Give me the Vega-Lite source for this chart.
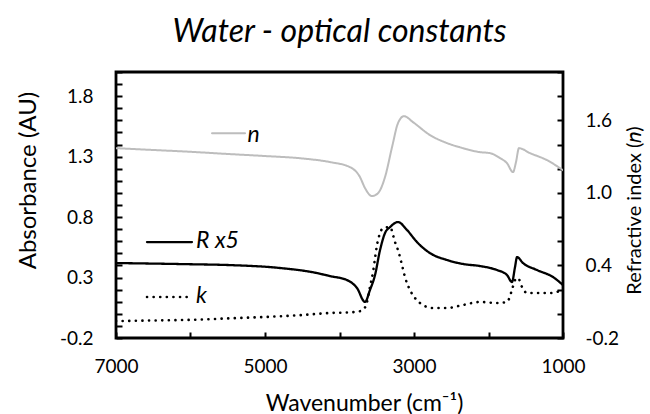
{
  "$schema": "https://vega.github.io/schema/vega-lite/v6.json",
  "autosize": "none",
  "padding": {"left": 116, "top": 72, "right": 87, "bottom": 76},
  "width": 447,
  "height": 266,
  "background": "white",
  "title": {"text": "Water - optical constants", "font": "Lato", "fontSize": 32, "fontStyle": "italic", "fontWeight": "normal", "color": "black", "anchor": "middle", "offset": 14},
  "datasets": {
    "curves": [
      {"series": "n", "wn": 7000, "v": 1.37}, {"series": "n", "wn": 6500, "v": 1.355}, {"series": "n", "wn": 6000, "v": 1.34}, {"series": "n", "wn": 5500, "v": 1.322}, {"series": "n", "wn": 5000, "v": 1.305}, {"series": "n", "wn": 4500, "v": 1.285}, {"series": "n", "wn": 4128, "v": 1.255}, {"series": "n", "wn": 3859, "v": 1.213}, {"series": "n", "wn": 3725, "v": 1.131}, {"series": "n", "wn": 3658, "v": 1.04}, {"series": "n", "wn": 3564, "v": 0.974}, {"series": "n", "wn": 3483, "v": 0.998}, {"series": "n", "wn": 3389, "v": 1.131}, {"series": "n", "wn": 3295, "v": 1.378}, {"series": "n", "wn": 3215, "v": 1.577}, {"series": "n", "wn": 3134, "v": 1.635}, {"series": "n", "wn": 3013, "v": 1.585}, {"series": "n", "wn": 2785, "v": 1.478}, {"series": "n", "wn": 2557, "v": 1.412}, {"series": "n", "wn": 2342, "v": 1.37}, {"series": "n", "wn": 2114, "v": 1.337}, {"series": "n", "wn": 1980, "v": 1.329}, {"series": "n", "wn": 1846, "v": 1.288}, {"series": "n", "wn": 1752, "v": 1.246}, {"series": "n", "wn": 1671, "v": 1.172}, {"series": "n", "wn": 1631, "v": 1.255}, {"series": "n", "wn": 1591, "v": 1.37}, {"series": "n", "wn": 1443, "v": 1.329}, {"series": "n", "wn": 1215, "v": 1.271}, {"series": "n", "wn": 1000, "v": 1.188},
      {"series": "R x5", "wn": 7000, "v": 0.42}, {"series": "R x5", "wn": 6000, "v": 0.41}, {"series": "R x5", "wn": 5470, "v": 0.403}, {"series": "R x5", "wn": 4799, "v": 0.379}, {"series": "R x5", "wn": 4302, "v": 0.337}, {"series": "R x5", "wn": 4128, "v": 0.312}, {"series": "R x5", "wn": 3899, "v": 0.279}, {"series": "R x5", "wn": 3765, "v": 0.213}, {"series": "R x5", "wn": 3658, "v": 0.098}, {"series": "R x5", "wn": 3591, "v": 0.197}, {"series": "R x5", "wn": 3523, "v": 0.321}, {"series": "R x5", "wn": 3456, "v": 0.527}, {"series": "R x5", "wn": 3389, "v": 0.668}, {"series": "R x5", "wn": 3322, "v": 0.717}, {"series": "R x5", "wn": 3215, "v": 0.759}, {"series": "R x5", "wn": 3094, "v": 0.693}, {"series": "R x5", "wn": 2960, "v": 0.593}, {"series": "R x5", "wn": 2785, "v": 0.502}, {"series": "R x5", "wn": 2557, "v": 0.445}, {"series": "R x5", "wn": 2342, "v": 0.412}, {"series": "R x5", "wn": 2114, "v": 0.395}, {"series": "R x5", "wn": 1886, "v": 0.362}, {"series": "R x5", "wn": 1752, "v": 0.321}, {"series": "R x5", "wn": 1685, "v": 0.263}, {"series": "R x5", "wn": 1644, "v": 0.387}, {"series": "R x5", "wn": 1617, "v": 0.469}, {"series": "R x5", "wn": 1537, "v": 0.42}, {"series": "R x5", "wn": 1349, "v": 0.362}, {"series": "R x5", "wn": 1134, "v": 0.304}, {"series": "R x5", "wn": 1000, "v": 0.238},
      {"series": "k", "wn": 7000, "v": -0.06}, {"series": "k", "wn": 6500, "v": -0.055}, {"series": "k", "wn": 6000, "v": -0.05}, {"series": "k", "wn": 5500, "v": -0.038}, {"series": "k", "wn": 5000, "v": -0.026}, {"series": "k", "wn": 4500, "v": -0.01}, {"series": "k", "wn": 4128, "v": 0.007}, {"series": "k", "wn": 3859, "v": 0.012}, {"series": "k", "wn": 3740, "v": 0.02}, {"series": "k", "wn": 3685, "v": 0.031}, {"series": "k", "wn": 3631, "v": 0.098}, {"series": "k", "wn": 3591, "v": 0.222}, {"series": "k", "wn": 3550, "v": 0.346}, {"series": "k", "wn": 3523, "v": 0.461}, {"series": "k", "wn": 3497, "v": 0.568}, {"series": "k", "wn": 3456, "v": 0.667}, {"series": "k", "wn": 3416, "v": 0.709}, {"series": "k", "wn": 3322, "v": 0.717}, {"series": "k", "wn": 3255, "v": 0.593}, {"series": "k", "wn": 3215, "v": 0.527}, {"series": "k", "wn": 3161, "v": 0.403}, {"series": "k", "wn": 3121, "v": 0.304}, {"series": "k", "wn": 3054, "v": 0.197}, {"series": "k", "wn": 2987, "v": 0.131}, {"series": "k", "wn": 2919, "v": 0.089}, {"series": "k", "wn": 2825, "v": 0.056}, {"series": "k", "wn": 2745, "v": 0.048}, {"series": "k", "wn": 2557, "v": 0.048}, {"series": "k", "wn": 2342, "v": 0.073}, {"series": "k", "wn": 2114, "v": 0.098}, {"series": "k", "wn": 1886, "v": 0.089}, {"series": "k", "wn": 1752, "v": 0.098}, {"series": "k", "wn": 1685, "v": 0.197}, {"series": "k", "wn": 1644, "v": 0.279}, {"series": "k", "wn": 1604, "v": 0.296}, {"series": "k", "wn": 1550, "v": 0.221}, {"series": "k", "wn": 1483, "v": 0.172}, {"series": "k", "wn": 1349, "v": 0.172}, {"series": "k", "wn": 1175, "v": 0.172}, {"series": "k", "wn": 1000, "v": 0.197}
    ],
    "legendLines": [
      {"series": "n", "wn": 5711, "v": 1.494}, {"series": "n", "wn": 5268, "v": 1.494},
      {"series": "R x5", "wn": 6584, "v": 0.593}, {"series": "R x5", "wn": 5980, "v": 0.593},
      {"series": "k", "wn": 6584, "v": 0.139}, {"series": "k", "wn": 5980, "v": 0.139}
    ],
    "legendText": [
      {"label": "n", "wn": 5235, "v": 1.42},
      {"label": "R x5", "wn": 5925, "v": 0.544},
      {"label": "k", "wn": 5925, "v": 0.089}
    ]
  },
  "layer": [
    {
      "data": {"name": "curves"},
      "mark": {"type": "line", "interpolate": "monotone", "strokeCap": "round", "clip": true},
      "encoding": {
        "x": {"field": "wn", "type": "quantitative", "scale": {"domain": [7000, 1000], "nice": false, "zero": false},
          "axis": {"values": [1000, 1500, 2000, 2500, 3000, 3500, 4000, 4500, 5000, 5500, 6000, 6500, 7000], "offset": -6, "tickSize": 6, "labelExpr": "datum.value % 2000 == 1000 ? format(datum.value, 'd') : ''", "labelPadding": 19, "title": "Wavenumber (cm⁻¹)", "titleX": 248, "titleY": 78, "titleBaseline": "alphabetic", "titleAlign": "center", "titleFontSize": 23}},
        "y": {"field": "v", "type": "quantitative", "scale": {"domain": [-0.2, 2.0], "nice": false, "zero": false},
          "axis": {"orient": "left", "offset": 0, "tickSize": -6, "values": [-0.2, -0.1, 0, 0.1, 0.2, 0.3, 0.4, 0.5, 0.6, 0.7, 0.8, 0.9, 1.0, 1.1, 1.2, 1.3, 1.4, 1.5, 1.6, 1.7, 1.8, 1.9, 2.0], "labelExpr": "(round(datum.value*10)+2) % 5 == 0 && datum.value < 1.9 ? (datum.value < 0 ? '-' : '') + format(abs(datum.value), '.1f') : ''", "labelPadding": 29, "title": "Absorbance (AU)", "titleAngle": -90, "titleX": -81, "titleY": 108, "titleBaseline": "alphabetic", "titleAlign": "center", "titleFontSize": 24}},
        "color": {"field": "series", "type": "nominal", "scale": {"domain": ["n", "R x5", "k"], "range": ["#bdbdbd", "black", "black"]}, "legend": null},
        "strokeDash": {"field": "series", "type": "nominal", "scale": {"domain": ["n", "R x5", "k"], "range": [[1, 0], [1, 0], [0.1, 6.5]]}, "legend": null},
        "strokeWidth": {"field": "series", "type": "nominal", "scale": {"domain": ["n", "R x5", "k"], "range": [2, 2.6, 3.2]}, "legend": null}
      }
    },
    {
      "data": {"name": "legendLines"},
      "mark": {"type": "line", "strokeCap": "round"},
      "encoding": {
        "x": {"field": "wn", "type": "quantitative", "scale": {"domain": [7000, 1000], "nice": false, "zero": false}},
        "y": {"field": "v", "type": "quantitative", "scale": {"domain": [-0.2, 2.0], "nice": false, "zero": false},
          "axis": {"orient": "right", "offset": -6, "tickSize": 6, "values": [-0.2, 0, 0.2, 0.4, 0.6, 0.8, 1.0, 1.2, 1.4, 1.6, 1.8, 2.0], "labelExpr": "(round(datum.value*10)+2) % 6 == 0 && datum.value < 1.9 ? (datum.value < 0 ? '-' : '') + format(abs(datum.value), '.1f') : ''", "labelPadding": 22, "title": "Refractive index (𝑛)", "titleAngle": -90, "titleX": 83, "titleY": 138, "titleBaseline": "alphabetic", "titleAlign": "center", "titleFontSize": 20}},
        "color": {"field": "series", "type": "nominal", "legend": null},
        "strokeDash": {"field": "series", "type": "nominal", "legend": null},
        "strokeWidth": {"field": "series", "type": "nominal", "legend": null}
      }
    },
    {
      "data": {"name": "legendText"},
      "mark": {"type": "text", "font": "Lato", "fontSize": 23, "fontStyle": "italic", "align": "left", "baseline": "alphabetic", "color": "black"},
      "encoding": {
        "x": {"field": "wn", "type": "quantitative", "scale": {"domain": [7000, 1000], "nice": false, "zero": false}},
        "y": {"field": "v", "type": "quantitative", "scale": {"domain": [-0.2, 2.0], "nice": false, "zero": false}, "axis": null},
        "text": {"field": "label"}
      }
    }
  ],
  "resolve": {"scale": {"y": "independent"}, "axis": {"y": "independent"}},
  "config": {
    "view": {"stroke": "black", "strokeWidth": 2.8},
    "axis": {"domain": false, "grid": false, "zindex": 1, "tickColor": "black", "tickWidth": 2, "labelFont": "Lato", "labelFontSize": 19, "labelColor": "black", "labelOverlap": false, "labelBound": false, "labelFlush": false, "titleFont": "Lato", "titleColor": "black", "titleFontWeight": "normal"}
  }
}
